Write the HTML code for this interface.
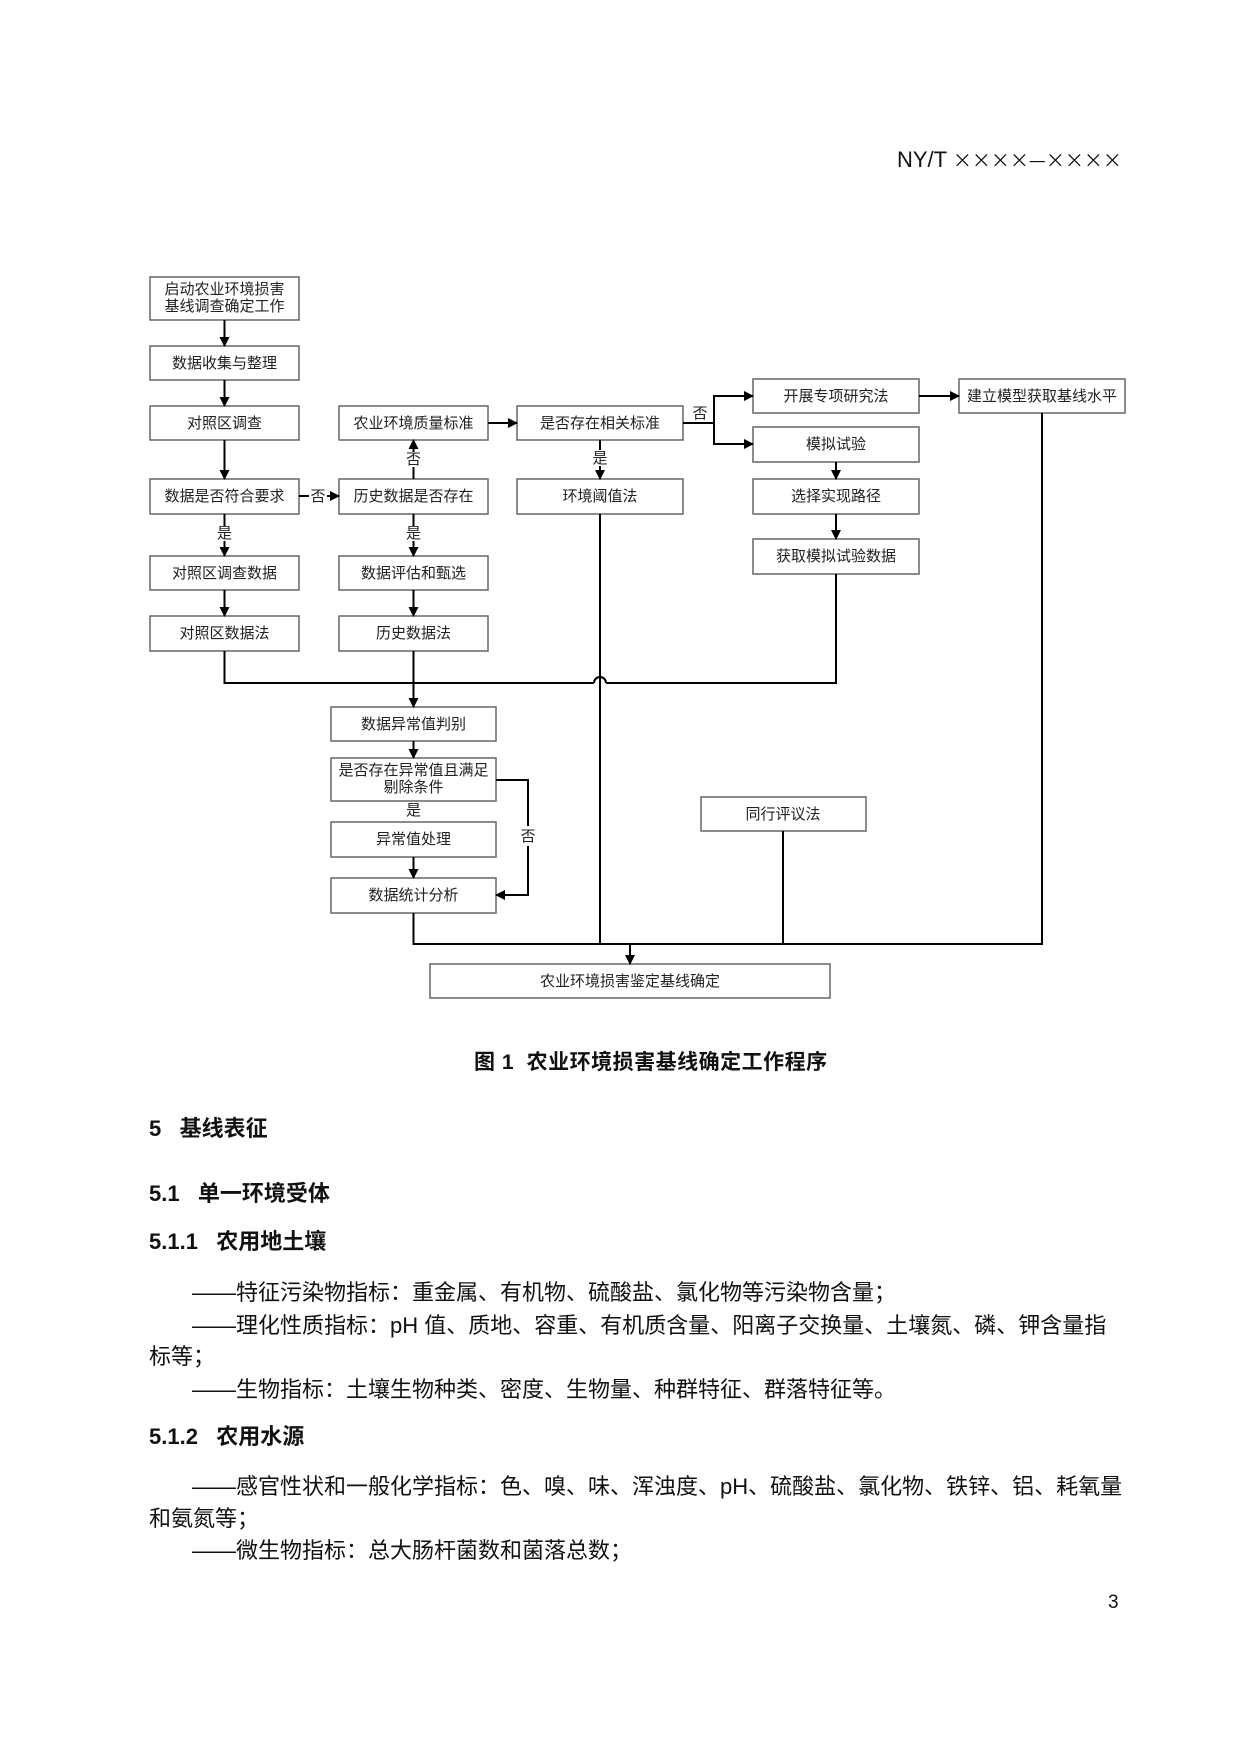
<!DOCTYPE html>
<html><head><meta charset="utf-8"><style>
html,body{margin:0;padding:0;background:#fff;}
body{width:1240px;height:1754px;position:relative;overflow:hidden;font-family:"Liberation Sans","Noto Sans CJK SC",sans-serif;color:#111;}
.t{position:absolute;white-space:nowrap;font-size:22px;line-height:1;}
.b{font-weight:bold;}
.x{font-family:"Noto Sans CJK SC",sans-serif;font-size:19px;}
</style></head><body>
<div class="t" style="left:897px;top:149px;font-size:22px;">NY/T <span class="x">××××—××××</span></div>

<svg width="1240" height="1754" style="position:absolute;left:0;top:0" xmlns="http://www.w3.org/2000/svg">
<defs><marker id="a" markerWidth="10" markerHeight="10" refX="9" refY="5" orient="auto" markerUnits="userSpaceOnUse"><path d="M0,0 L10,5 L0,10 z" fill="#000"/></marker></defs>
<g fill="#fff" stroke="#666" stroke-width="1.5">
<rect x="150" y="277" width="149" height="43"/>
<rect x="150" y="346" width="149" height="34"/>
<rect x="150" y="406" width="149" height="34"/>
<rect x="150" y="479" width="149" height="35"/>
<rect x="150" y="556" width="149" height="34"/>
<rect x="150" y="616" width="149" height="35"/>
<rect x="339" y="406" width="149" height="34"/>
<rect x="339" y="479" width="149" height="35"/>
<rect x="339" y="556" width="149" height="34"/>
<rect x="339" y="616" width="149" height="35"/>
<rect x="517" y="406" width="166" height="34"/>
<rect x="517" y="479" width="166" height="35"/>
<rect x="753" y="379" width="166" height="34"/>
<rect x="753" y="427" width="166" height="35"/>
<rect x="753" y="479" width="166" height="35"/>
<rect x="753" y="539" width="166" height="35"/>
<rect x="959" y="379" width="166" height="34"/>
<rect x="331" y="707" width="165" height="34"/>
<rect x="331" y="758" width="165" height="43"/>
<rect x="331" y="822" width="165" height="35"/>
<rect x="331" y="878" width="165" height="35"/>
<rect x="701" y="797" width="165" height="34"/>
<rect x="430" y="964" width="400" height="34"/>
</g>
<g stroke="#000" stroke-width="2" fill="none">
<line x1="224.5" y1="320" x2="224.5" y2="346" marker-end="url(#a)"/>
<line x1="224.5" y1="380" x2="224.5" y2="406" marker-end="url(#a)"/>
<line x1="224.5" y1="440" x2="224.5" y2="479" marker-end="url(#a)"/>
<line x1="224.5" y1="514" x2="224.5" y2="526"/>
<line x1="224.5" y1="541" x2="224.5" y2="556" marker-end="url(#a)"/>
<line x1="224.5" y1="590" x2="224.5" y2="616" marker-end="url(#a)"/>
<line x1="299" y1="496" x2="309" y2="496"/>
<line x1="327" y1="496" x2="339" y2="496" marker-end="url(#a)"/>
<line x1="413.5" y1="479" x2="413.5" y2="467"/>
<line x1="413.5" y1="452" x2="413.5" y2="440" marker-end="url(#a)"/>
<line x1="413.5" y1="514" x2="413.5" y2="526"/>
<line x1="413.5" y1="541" x2="413.5" y2="556" marker-end="url(#a)"/>
<line x1="413.5" y1="590" x2="413.5" y2="616" marker-end="url(#a)"/>
<line x1="488" y1="423" x2="517" y2="423" marker-end="url(#a)"/>
<line x1="600" y1="440" x2="600" y2="450"/>
<line x1="600" y1="466" x2="600" y2="479" marker-end="url(#a)"/>
<polyline points="683,423 714,423"/>
<polyline points="753,396 714,396 714,444 753,444"/>
<line x1="714" y1="396" x2="753" y2="396" marker-end="url(#a)"/>
<line x1="714" y1="444" x2="753" y2="444" marker-end="url(#a)"/>
<line x1="919" y1="396" x2="959" y2="396" marker-end="url(#a)"/>
<line x1="836" y1="462" x2="836" y2="479" marker-end="url(#a)"/>
<line x1="836" y1="514" x2="836" y2="539" marker-end="url(#a)"/>
<polyline points="224.5,651 224.5,683 594,683"/>
<path d="M594,683 A6,6 0 0 1 606,683"/>
<polyline points="606,683 836,683 836,574"/>
<line x1="413.5" y1="651" x2="413.5" y2="707" marker-end="url(#a)"/>
<line x1="600" y1="514" x2="600" y2="944"/>
<polyline points="1042,413 1042,944 413.5,944 413.5,913"/>
<line x1="783" y1="831" x2="783" y2="944"/>
<line x1="630" y1="944" x2="630" y2="964" marker-end="url(#a)"/>
<line x1="413.5" y1="741" x2="413.5" y2="758" marker-end="url(#a)"/>
<line x1="413.5" y1="857" x2="413.5" y2="878" marker-end="url(#a)"/>
<polyline points="496,780 528,780 528,826"/>
<polyline points="528,846 528,895 496,895"/>
<line x1="528" y1="895" x2="496" y2="895" marker-end="url(#a)"/>
</g>
<g font-family="Liberation Sans, Noto Sans CJK SC, sans-serif" font-size="15" fill="#222" text-anchor="middle">
<text x="224.5" y="294">启动农业环境损害</text>
<text x="224.5" y="311">基线调查确定工作</text>
<text x="224.5" y="368">数据收集与整理</text>
<text x="224.5" y="428">对照区调查</text>
<text x="224.5" y="501">数据是否符合要求</text>
<text x="224.5" y="578">对照区调查数据</text>
<text x="224.5" y="638">对照区数据法</text>
<text x="413.5" y="428">农业环境质量标准</text>
<text x="413.5" y="501">历史数据是否存在</text>
<text x="413.5" y="578">数据评估和甄选</text>
<text x="413.5" y="638">历史数据法</text>
<text x="600" y="428">是否存在相关标准</text>
<text x="600" y="501">环境阈值法</text>
<text x="836" y="401">开展专项研究法</text>
<text x="836" y="449">模拟试验</text>
<text x="836" y="501">选择实现路径</text>
<text x="836" y="561">获取模拟试验数据</text>
<text x="1042" y="401">建立模型获取基线水平</text>
<text x="413.5" y="729">数据异常值判别</text>
<text x="413.5" y="775">是否存在异常值且满足</text>
<text x="413.5" y="792">剔除条件</text>
<text x="413.5" y="844">异常值处理</text>
<text x="413.5" y="900">数据统计分析</text>
<text x="783" y="819">同行评议法</text>
<text x="630" y="986">农业环境损害鉴定基线确定</text>
<text x="318" y="501">否</text>
<text x="413.5" y="464">否</text>
<text x="224.5" y="538">是</text>
<text x="413.5" y="538">是</text>
<text x="600" y="463">是</text>
<text x="700" y="418">否</text>
<text x="413.5" y="815">是</text>
<text x="528" y="841">否</text>
</g>
</svg>

<div class="t b" style="left:474px;top:1052px;font-size:21px;letter-spacing:0.5px;">图 1&nbsp;&nbsp;农业环境损害基线确定工作程序</div>
<div class="t b" style="left:149px;top:1118px;font-size:22px;">5&nbsp;&nbsp;&nbsp;基线表征</div>
<div class="t b" style="left:149px;top:1183px;font-size:22px;">5.1&nbsp;&nbsp;&nbsp;单一环境受体</div>
<div class="t b" style="left:149px;top:1231px;font-size:22px;">5.1.1&nbsp;&nbsp;&nbsp;农用地土壤</div>
<div class="t" style="left:192px;top:1282px;">——特征污染物指标：重金属、有机物、硫酸盐、氯化物等污染物含量；</div>
<div class="t" style="left:192px;top:1315px;">——理化性质指标：pH 值、质地、容重、有机质含量、阳离子交换量、土壤氮、磷、钾含量指</div>
<div class="t" style="left:149px;top:1346px;">标等；</div>
<div class="t" style="left:192px;top:1379px;">——生物指标：土壤生物种类、密度、生物量、种群特征、群落特征等。</div>
<div class="t b" style="left:149px;top:1426px;font-size:22px;">5.1.2&nbsp;&nbsp;&nbsp;农用水源</div>
<div class="t" style="left:192px;top:1476px;">——感官性状和一般化学指标：色、嗅、味、浑浊度、pH、硫酸盐、氯化物、铁锌、铝、耗氧量</div>
<div class="t" style="left:149px;top:1508px;">和氨氮等；</div>
<div class="t" style="left:192px;top:1540px;">——微生物指标：总大肠杆菌数和菌落总数；</div>
<div class="t" style="left:1108px;top:1593px;font-size:19px;">3</div>
</body></html>
